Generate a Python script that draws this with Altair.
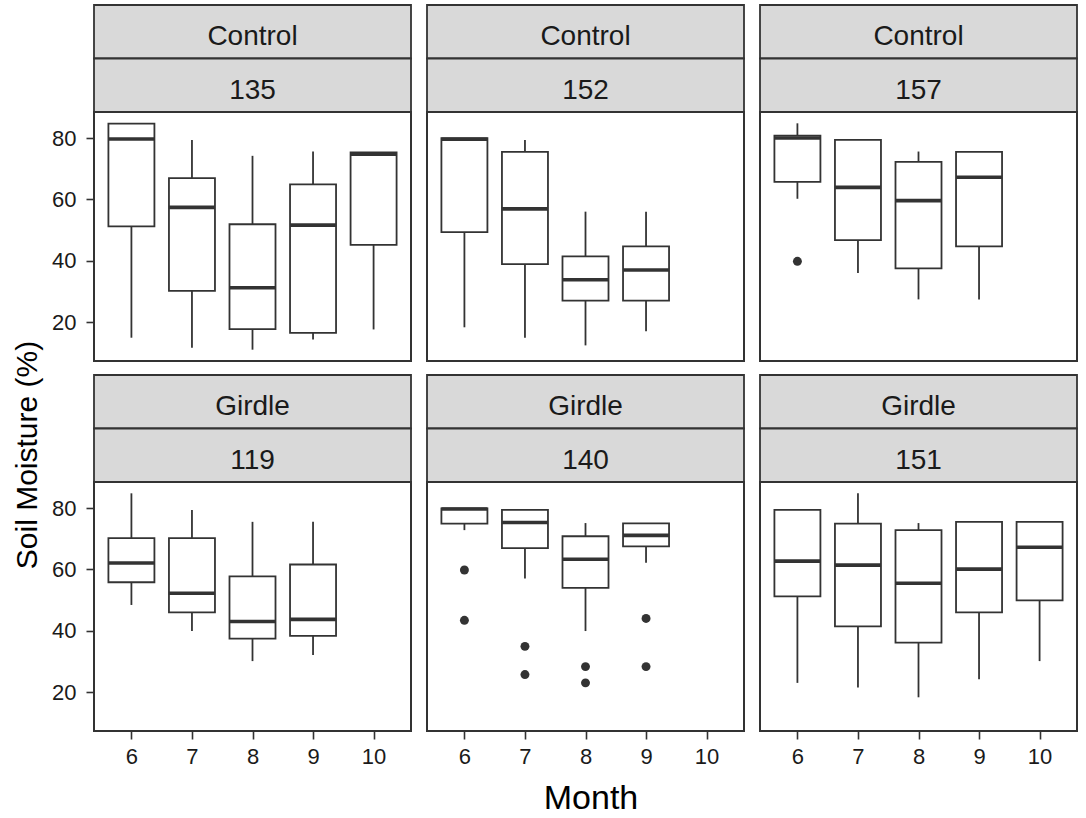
import altair as alt
import pandas as pd

FONT = "Liberation Sans"
INK = "#333333"
STRIP_FILL = "#D9D9D9"

# facet labels
treatments = ["Control", "Control", "Control", "Girdle", "Girdle", "Girdle"]
trees = ["135", "152", "157", "119", "140", "151"]
months = [6, 7, 8, 9, 10]

# box summaries: tree, month, lower whisker, q1, median, q3, upper whisker
box_tree = ["135"] * 5 + ["152"] * 4 + ["157"] * 4 + ["119"] * 4 + ["140"] * 4 + ["151"] * 5
box_month = [6, 7, 8, 9, 10,
             6, 7, 8, 9,
             6, 7, 8, 9,
             6, 7, 8, 9,
             6, 7, 8, 9,
             6, 7, 8, 9, 10]
whisker_lo = [14.9, 11.6, 11.0, 14.3, 17.6,
              18.3, 14.9, 12.4, 17.0,
              60.2, 36.0, 27.4, 27.4,
              48.4, 39.9, 30.1, 32.1,
              72.8, 57.0, 39.9, 62.2,
              23.0, 21.5, 18.3, 24.2, 30.1]
q1 = [51.2, 30.2, 17.7, 16.5, 45.2,
      49.3, 38.9, 27.0, 27.0,
      65.7, 46.7, 37.5, 44.7,
      55.8, 46.0, 37.4, 38.3,
      74.9, 66.9, 54.0, 67.5,
      51.2, 41.4, 36.1, 46.0, 49.9]
median = [79.7, 57.4, 31.2, 51.6, 74.7,
          79.6, 56.9, 33.8, 37.0,
          80.0, 63.9, 59.6, 67.2,
          62.1, 52.2, 43.0, 43.7,
          79.7, 75.3, 63.3, 71.1,
          62.7, 61.4, 55.5, 60.1, 67.2]
q3 = [84.7, 66.9, 51.9, 64.9, 75.3,
      80.0, 75.5, 41.4, 44.7,
      80.8, 79.4, 72.2, 75.5,
      70.2, 70.2, 57.7, 61.6,
      79.9, 79.4, 70.8, 75.0,
      79.4, 74.9, 72.8, 75.5, 75.5]
whisker_hi = [84.7, 79.4, 74.2, 75.6, 75.3,
              80.0, 79.4, 56.0, 56.0,
              84.8, 79.4, 75.6, 75.5,
              84.8, 79.4, 75.5, 75.5,
              79.9, 79.4, 75.1, 75.0,
              79.4, 84.8, 75.1, 75.5, 75.5]

# points beyond the whiskers
out_tree = ["157", "140", "140", "140", "140", "140", "140", "140", "140"]
out_month = [6, 6, 6, 7, 7, 8, 8, 9, 9]
out_value = [39.8, 59.8, 43.4, 34.9, 25.7, 28.3, 23.0, 44.0, 28.3]

BOX_HALF = 0.38

boxes = pd.DataFrame({
    "tree": box_tree, "month": box_month, "lo": whisker_lo,
    "q1": q1, "med": median, "q3": q3, "hi": whisker_hi,
})
outliers = pd.DataFrame({"tree": out_tree, "month": out_month, "value": out_value})

# shared scales with 5% expansion
y_lo = min(whisker_lo + out_value)
y_hi = max(whisker_hi + out_value)
y_pad = 0.05 * (y_hi - y_lo)
Y_DOMAIN = [y_lo - y_pad, y_hi + y_pad]
x_lo, x_hi = min(months) - BOX_HALF, max(months) + BOX_HALF
x_pad = 0.05 * (x_hi - x_lo)
X_DOMAIN = [x_lo - x_pad, x_hi + x_pad]

W = 317          # panel width
STRIP = 53.5     # height of one strip row
PANEL_H = 249    # plotting area height
H = 2 * STRIP + PANEL_H
NO_VIEW = alt.ViewBackground(stroke="transparent", strokeWidth=0)


def panel(i):
    tree = trees[i]
    left = i % 3 == 0
    bottom = i // 3 == 1

    x_axis = alt.Axis(values=months, format="d", title=None, domain=False, grid=False,
                      tickSize=8, tickWidth=1.6, tickColor=INK, labelPadding=7,
                      labelFontSize=22, labelColor="#1a1a1a", labelFont=FONT) if bottom else None
    y_axis = alt.Axis(values=[20, 40, 60, 80], format="d", title=None, domain=False, grid=False,
                      tickSize=8, tickWidth=1.6, tickColor=INK, labelPadding=10,
                      labelFontSize=22, labelColor="#1a1a1a", labelFont=FONT) if left else None
    xs = alt.Scale(domain=X_DOMAIN, nice=False, zero=False)
    ys = alt.Scale(domain=Y_DOMAIN, range=[H, 2 * STRIP], nice=False, zero=False)

    def X(field):
        return alt.X(f"{field}:Q", scale=xs, axis=x_axis)

    def Y(field):
        return alt.Y(f"{field}:Q", scale=ys, axis=y_axis)

    base = alt.Chart(boxes[boxes["tree"] == tree]).transform_calculate(
        xl=f"datum.month - {BOX_HALF}", xr=f"datum.month + {BOX_HALF}"
    )
    low_whisker = base.mark_rule(color=INK, strokeWidth=1.8).encode(x=X("month"), y=Y("lo"), y2="q1")
    high_whisker = base.mark_rule(color=INK, strokeWidth=1.8).encode(x=X("month"), y=Y("q3"), y2="hi")
    box = base.mark_rect(fill="white", stroke=INK, strokeWidth=1.8).encode(
        x=X("xl"), x2="xr", y=Y("q1"), y2="q3")
    mid = base.mark_rule(color=INK, strokeWidth=3.6).encode(x=X("xl"), x2="xr", y=Y("med"))
    layers = [low_whisker, high_whisker, box, mid]

    pts = outliers[outliers["tree"] == tree]
    if len(pts):
        layers.append(alt.Chart(pts).mark_circle(color=INK, size=80, opacity=1).encode(
            x=X("month"), y=Y("value")))

    # two stacked strips: treatment on top, tree id below
    for k, label in enumerate([treatments[i], tree]):
        top = k * STRIP
        strip_data = pd.DataFrame({"label": [label]})
        layers.append(alt.Chart(strip_data).mark_rect(
            fill=STRIP_FILL, stroke=INK, strokeWidth=1.8).encode(
            x=alt.value(0), x2=alt.value(W), y=alt.value(top), y2=alt.value(top + STRIP)))
        layers.append(alt.Chart(strip_data).mark_text(
            font=FONT, fontSize=28, color="#1a1a1a", align="center", baseline="alphabetic").encode(
            x=alt.value(W / 2), y=alt.value(top + 40), text="label:N"))

    # panel border
    layers.append(alt.Chart(pd.DataFrame({"label": [tree]})).mark_rect(
        fill="white", fillOpacity=0, stroke=INK, strokeWidth=2).encode(
        x=alt.value(0), x2=alt.value(W), y=alt.value(2 * STRIP), y2=alt.value(H)))

    return alt.layer(*layers).properties(width=W, height=H, view=NO_VIEW)


row1 = alt.hconcat(panel(0), panel(1), panel(2), spacing=14)
row2 = alt.hconcat(panel(3), panel(4), panel(5), spacing=14)
grid = alt.vconcat(row1, row2, spacing=12)

x_title = alt.Chart(pd.DataFrame({"t": ["Month"]})).mark_text(
    font=FONT, fontSize=34, color="black", align="center", baseline="alphabetic").encode(
    x=alt.value(497), y=alt.value(42), text="t:N").properties(width=975, height=46, view=NO_VIEW)

y_title = alt.Chart(pd.DataFrame({"t": ["Soil Moisture (%)"]})).mark_text(
    font=FONT, fontSize=30, color="black", align="center", baseline="middle", angle=270).encode(
    x=alt.value(28), y=alt.value(450), text="t:N").properties(width=44, height=720, view=NO_VIEW)

chart = alt.hconcat(
    y_title, alt.vconcat(grid, x_title, spacing=0), spacing=7
).properties(
    padding={"left": 0, "top": 4, "right": 0, "bottom": 0},
    background="white",
).configure_view(stroke="transparent", strokeWidth=0).configure(font=FONT)

chart.save("out.html", embed_options={"renderer": "svg", "actions": False})
